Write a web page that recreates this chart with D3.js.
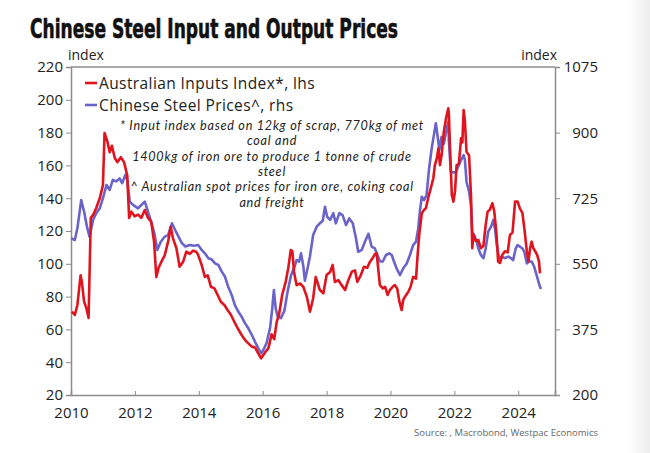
<!DOCTYPE html>
<html>
<head>
<meta charset="utf-8">
<script src="https://cdn.jsdelivr.net/npm/d3@7"></script>
<style>
  html, body { margin: 0; padding: 0; background: #fff; }
  svg { display: block; }
</style>
</head>
<body>
<svg id="chart" width="650" height="453"></svg>
<script>
// ---- Data ----
const titleText = "Chinese Steel Input and Output Prices";
const legendLabels = ["Australian Inputs Index*, lhs", "Chinese Steel Prices^, rhs"];
const noteLines = [
  "* Input index based on 12kg of scrap, 770kg of met",
  "coal and",
  "1400kg of iron ore to produce 1 tonne of crude",
  "steel",
  "^ Australian spot prices for iron ore, coking coal",
  "and freight"
];
const sourceText = "Source: , Macrobond, Westpac Economics";
const xTicks = [2010, 2012, 2014, 2016, 2018, 2020, 2022, 2024];
const leftTicks = [20, 40, 60, 80, 100, 120, 140, 160, 180, 200, 220];
const rightTicks = [200, 375, 550, 725, 900, 1075];

// Australian Inputs Index* (lhs) [decimal year, index]
const inputsIndex = [
[2010.03,70.8],[2010.12,68.8],[2010.20,74.9],[2010.30,93],[2010.34,89],[2010.41,76.9],[2010.48,73],[2010.55,67],
[2010.62,128],[2010.69,129.8],[2010.79,134],[2010.90,140],[2011.00,148],[2011.05,179.8],[2011.14,174.5],[2011.21,168],
[2011.28,172],[2011.37,164.5],[2011.45,162],[2011.56,165],[2011.66,162],[2011.76,154],[2011.82,128],[2011.89,131.8],
[2011.99,129],[2012.10,130],[2012.20,128],[2012.31,132.8],[2012.41,128],[2012.51,125.7],[2012.60,113.5],[2012.67,92],
[2012.74,97.4],[2012.83,101.3],[2012.93,105],[2013.04,113.5],[2013.12,122.6],[2013.19,115.7],[2013.30,109.5],[2013.40,98.2],
[2013.51,101.3],[2013.61,107.4],[2013.72,106],[2013.82,108],[2013.92,107.4],[2013.98,105.4],[2014.09,99.3],[2014.19,92],
[2014.28,93],[2014.38,86],[2014.49,85],[2014.59,81],[2014.69,76.9],[2014.80,74.9],[2014.90,71.8],[2015.01,68.8],
[2015.11,64.7],[2015.22,60.6],[2015.34,56.6],[2015.45,53.5],[2015.55,51.5],[2015.66,49.5],[2015.76,49],[2015.86,45.4],
[2015.95,42.4],[2016.02,44.4],[2016.09,46.4],[2016.18,48.6],[2016.28,57],[2016.36,54],[2016.44,64.7],[2016.51,68.8],
[2016.61,81],[2016.72,89],[2016.80,97.3],[2016.88,108.4],[2016.93,107.5],[2016.98,95.2],[2017.06,87],[2017.17,88],
[2017.27,86],[2017.38,80],[2017.48,70.8],[2017.58,79],[2017.66,92],[2017.79,84],[2017.90,82],[2018.00,93.2],
[2018.11,95],[2018.19,99.3],[2018.26,89],[2018.37,90],[2018.47,87],[2018.58,84],[2018.68,90],[2018.79,95.2],
[2018.89,96],[2018.96,89],[2019.07,93],[2019.17,98.2],[2019.27,97.5],[2019.36,101.3],[2019.44,103.4],[2019.51,105.8],
[2019.57,106.3],[2019.62,96.2],[2019.67,87],[2019.76,85],[2019.83,86],[2019.91,81],[2019.98,84],[2020.07,86],
[2020.14,87],[2020.21,85],[2020.28,76.9],[2020.35,71.8],[2020.40,78],[2020.49,81],[2020.56,83],[2020.63,86],
[2020.71,92],[2020.80,91],[2020.85,105.4],[2020.90,117.6],[2020.98,130.8],[2021.05,132.8],[2021.11,134],[2021.18,140],
[2021.26,146],[2021.34,152],[2021.39,160],[2021.45,164.3],[2021.50,170.4],[2021.55,160.2],[2021.60,166.3],[2021.67,180.5],
[2021.74,188.7],[2021.81,194.8],[2021.83,191],[2021.86,172.4],[2021.92,142],[2021.97,137.9],[2022.02,144],[2022.07,160.2],
[2022.14,161],[2022.21,176.5],[2022.25,174],[2022.29,193.8],[2022.33,187],[2022.38,168.4],[2022.46,166],[2022.52,142],
[2022.56,109.5],[2022.60,117.6],[2022.67,114],[2022.75,114.5],[2022.83,109.5],[2022.91,111],[2022.98,123.7],[2023.04,131.8],
[2023.11,133],[2023.19,136.9],[2023.25,131.8],[2023.32,117.6],[2023.37,101.3],[2023.43,100.5],[2023.50,105.4],[2023.58,107.6],
[2023.67,107],[2023.74,117.6],[2023.82,119],[2023.90,137.9],[2023.98,137.9],[2024.05,133.8],[2024.13,131],[2024.19,121.6],
[2024.27,107.4],[2024.32,101.3],[2024.37,109.5],[2024.42,113.5],[2024.47,109.5],[2024.52,108],[2024.59,105.4],[2024.65,101.3],
[2024.68,94.2]
];

// Chinese Steel Prices^ (rhs) [decimal year, index]
const steelPrices = [
[2010.01,618],[2010.12,613.5],[2010.20,645],[2010.32,720],[2010.41,689],[2010.51,645],[2010.58,622.5],[2010.69,667],
[2010.79,685],[2010.90,698],[2011.00,725],[2011.11,760],[2011.21,747],[2011.31,774],[2011.42,770],[2011.52,778],
[2011.60,765],[2011.70,787],[2011.76,774],[2011.84,716],[2011.94,707],[2012.10,698],[2012.20,707],[2012.31,716],
[2012.41,689],[2012.51,662],[2012.62,627],[2012.70,587],[2012.81,609],[2012.93,622],[2013.04,627],[2013.16,658],
[2013.26,640],[2013.37,622],[2013.47,605],[2013.58,596],[2013.72,600],[2013.85,598],[2013.98,600],[2014.09,587],
[2014.19,578],[2014.30,565],[2014.40,562],[2014.51,551],[2014.61,547],[2014.72,529],[2014.82,515.5],[2014.92,489],
[2015.03,467],[2015.13,440],[2015.24,422],[2015.34,409],[2015.45,391],[2015.55,378],[2015.66,360],[2015.76,342],
[2015.86,325],[2015.95,311],[2016.02,320],[2016.12,338],[2016.23,378],[2016.30,431],[2016.35,480],[2016.41,430],
[2016.47,409],[2016.57,405],[2016.68,425],[2016.78,476],[2016.89,520],[2016.99,540],[2017.06,560],[2017.14,556],
[2017.20,578],[2017.27,545],[2017.32,505],[2017.41,540],[2017.48,570],[2017.58,627],[2017.69,649],[2017.79,658],
[2017.88,665],[2017.95,702],[2018.02,675],[2018.11,667],[2018.21,685],[2018.29,658],[2018.40,685],[2018.50,680],
[2018.61,653.5],[2018.71,671],[2018.82,658],[2018.92,618],[2018.99,582],[2019.10,587],[2019.20,609],[2019.31,630],
[2019.41,596],[2019.51,591],[2019.59,573.5],[2019.67,556],[2019.76,556],[2019.86,573.5],[2019.96,578],[2020.04,573.5],
[2020.11,556],[2020.19,538],[2020.30,520],[2020.40,538],[2020.51,551],[2020.61,573.5],[2020.71,600],[2020.80,609],
[2020.87,645],[2020.92,689],[2020.98,729],[2021.05,720],[2021.13,733],[2021.21,805],[2021.29,858],[2021.36,894],
[2021.42,925],[2021.47,894],[2021.53,854],[2021.60,889],[2021.67,870],[2021.74,902],[2021.81,929],[2021.83,876],
[2021.89,796],[2021.97,794],[2022.04,794],[2022.12,809],[2022.21,827],[2022.29,840],[2022.33,827],[2022.38,769],
[2022.46,742.5],[2022.52,707],[2022.56,636],[2022.62,627],[2022.70,609],[2022.75,591],[2022.83,573.5],[2022.91,565],
[2022.98,591],[2023.06,636],[2023.15,649],[2023.22,667],[2023.27,645],[2023.33,600],[2023.40,565],[2023.48,569],
[2023.58,565],[2023.69,569],[2023.77,565],[2023.84,560],[2023.92,591],[2023.98,600],[2024.05,596],[2024.13,591],
[2024.19,582],[2024.27,551],[2024.33,556],[2024.42,556],[2024.50,542],[2024.59,515],[2024.66,493.5],[2024.71,483]
];

// ---- Layout ----
const W = 650, H = 453;
const plot = { left: 71, right: 555, top: 67, bottom: 395 };
const RED = "#e0141e", BLUE = "#6a63c9", AXIS = "#8c8c8c";
const FONT = "'Open Sans', 'Noto Sans', sans-serif";
const NOTE_FONT = "Lato, 'Open Sans', sans-serif";

const svg = d3.select("#chart");

// light grey strip at the far right edge of the picture
const defs = svg.append("defs");
const grad = defs.append("linearGradient").attr("id", "edge").attr("x1", "0").attr("x2", "1");
grad.append("stop").attr("offset", "0").attr("stop-color", "#ffffff");
grad.append("stop").attr("offset", "1").attr("stop-color", "#ececec");
svg.append("rect").attr("x", 628).attr("y", 0).attr("width", 22).attr("height", H).attr("fill", "url(#edge)");

const x = d3.scaleLinear().domain([2010, 2025.15]).range([plot.left, plot.right]);
const yL = d3.scaleLinear().domain([20, 220]).range([plot.bottom, plot.top]);
const yR = d3.scaleLinear().domain([200, 1075]).range([plot.bottom, plot.top]);

// Title
svg.append("text")
  .attr("x", 30).attr("y", 38)
  .attr("font-family", "'DejaVu Sans Condensed', 'Liberation Sans Narrow', 'DejaVu Sans', sans-serif")
  .attr("font-weight", "bold").attr("font-size", 26)
  .attr("textLength", 368).attr("lengthAdjust", "spacingAndGlyphs")
  .attr("fill", "#111").attr("stroke", "#111").attr("stroke-width", 0.6)
  .text(titleText);

// "index" unit labels
svg.append("text").attr("x", 68).attr("y", 60).attr("font-family", FONT).attr("font-size", 14)
  .attr("fill", "#222").text("index");
svg.append("text").attr("x", 557).attr("y", 60).attr("text-anchor", "end").attr("font-family", FONT)
  .attr("font-size", 14).attr("fill", "#222").text("index");

// Axes
const leftAxis = svg.append("g").attr("transform", `translate(${plot.left},0)`)
  .call(d3.axisLeft(yL).tickValues(leftTicks).tickSize(5).tickPadding(3));
const rightAxis = svg.append("g").attr("transform", `translate(${plot.right},0)`)
  .call(d3.axisRight(yR).tickValues(rightTicks).tickFormat(d3.format("d")).tickSize(5).tickPadding(3));
rightAxis.selectAll(".tick text").attr("text-anchor", "end").attr("x", 43);
const bottomAxis = svg.append("g").attr("transform", `translate(0,${plot.bottom})`)
  .call(d3.axisBottom(x).tickValues(xTicks).tickFormat(d3.format("d")).tickSize(-4));
bottomAxis.selectAll(".tick text").attr("y", 12.5);

[leftAxis, rightAxis, bottomAxis].forEach(g => {
  g.select(".domain").attr("stroke", AXIS).attr("stroke-width", 1.5);
  g.selectAll(".tick line").attr("stroke", AXIS).attr("stroke-width", 1);
  g.selectAll(".tick text").attr("font-size", 15).attr("fill", "#222").attr("font-family", FONT);
});
// top border
svg.append("line").attr("x1", plot.left).attr("x2", plot.right).attr("y1", plot.top).attr("y2", plot.top)
  .attr("stroke", AXIS).attr("stroke-width", 1.5);

// Lines
const lineL = d3.line().x(d => x(d[0])).y(d => yL(d[1]));
const lineR = d3.line().x(d => x(d[0])).y(d => yR(d[1]));
svg.append("path").datum(steelPrices).attr("d", lineR).attr("fill", "none")
  .attr("stroke", BLUE).attr("stroke-width", 2.6).attr("stroke-linejoin", "round");
svg.append("path").datum(inputsIndex).attr("d", lineL).attr("fill", "none")
  .attr("stroke", RED).attr("stroke-width", 2.6).attr("stroke-linejoin", "round");

// Legend
const legendColors = [RED, BLUE];
legendLabels.forEach((lab, i) => {
  const cy = 83 + i * 22;
  svg.append("line").attr("x1", 85).attr("x2", 97).attr("y1", cy).attr("y2", cy)
    .attr("stroke", legendColors[i]).attr("stroke-width", 2.6);
  svg.append("text").attr("x", 99).attr("y", cy + 5.5).attr("font-family", FONT)
    .attr("font-size", 15.5).attr("letter-spacing", 0.4).attr("fill", "#222").text(lab);
});

// Notes (italic, centred)
noteLines.forEach((t, i) => {
  svg.append("text").attr("x", 272).attr("y", 130 + i * 15.3).attr("text-anchor", "middle")
    .attr("font-family", NOTE_FONT).attr("font-style", "italic").attr("font-size", 12.6)
    .attr("letter-spacing", 0.75).attr("fill", "#222").text(t);
});

// Source
svg.append("text").attr("x", 598).attr("y", 436).attr("text-anchor", "end")
  .attr("font-family", FONT).attr("font-size", 9.5).attr("fill", "#666").text(sourceText);
</script>
</body>
</html>
